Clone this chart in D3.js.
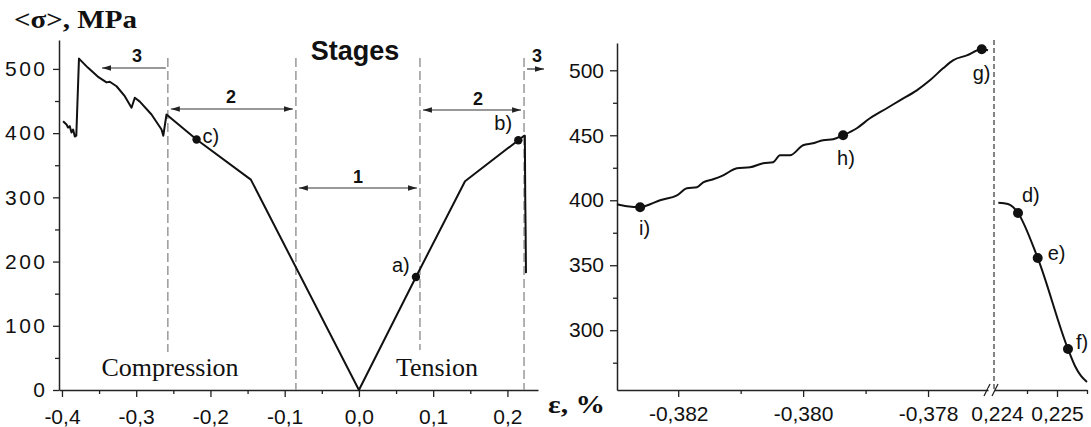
<!DOCTYPE html>
<html><head><meta charset="utf-8">
<script src="https://cdn.jsdelivr.net/npm/d3@7"></script>
<style>
body{margin:0;background:#fff}
svg{display:block}
text{fill:#111}
</style></head>
<body><svg id="c" width="1091" height="427"></svg>
<script>
// ---------- data ----------
// Left panel: full stress–strain loop (strain %, stress MPa)
const leftStrain = [-0.3985,-0.3939,-0.3918,-0.3895,-0.3872,-0.3850,-0.3827,-0.3807,-0.3771,-0.3652,-0.3518,-0.3400,-0.3356,-0.3265,-0.3154,-0.3063,-0.3019,-0.2951,-0.2794,-0.2659,-0.2635,-0.2592,-0.2187,-0.1456,0,0.0768,0.1429,0.2147,0.2224,0.2235,0.2240,0.2245,0.2250];
const leftStress = [418.6,413.4,408.7,410.8,401,405.6,394.7,396,516,502,488,479,480,473,457.5,439.5,455,449,429,405.6,396,429,390,327.6,0,176,325,389,396,396,300,250,182];
const leftPointLabels = ["a)","b)","c)"];
const leftPointStrain = [0.0768,0.2147,-0.2187];
const leftPointStress = [176,389,390];
const stageBounds = [-0.2574,-0.0849,0.0822,0.2224];
const leftXTicks = [-0.4,-0.3,-0.2,-0.1,0.0,0.1,0.2];
const leftXMinor = [-0.35,-0.25,-0.15,-0.05,0.05,0.15];
const leftYTicks = [0,100,200,300,400,500];
const leftYMinor = [50,150,250,350,450];

// Right panel: zoomed compression end (left segment) and tension end (right segment)
const compStrain = [-0.38298,-0.38282,-0.38261,-0.38245,-0.38229,-0.38202,-0.38186,-0.38170,-0.38160,-0.38144,-0.38128,-0.38106,-0.38085,-0.38064,-0.38048,-0.38037,-0.38021,-0.38000,-0.37984,-0.37968,-0.37952,-0.37936,-0.37914,-0.37893,-0.37866,-0.37845,-0.37818,-0.37797,-0.37776,-0.37760,-0.37738,-0.37714,-0.37704];
const compStress = [396.9,395.4,394.6,396.9,400,403.8,409.2,410,413.8,416.2,419.2,424.6,425.4,428.5,429.2,434.6,434.6,442.3,443.8,446.2,446.9,450,455.4,463.1,470.8,476.9,484.6,492.3,501.5,507.7,511.5,516.2,515.4];
const tensStrain = [0.224022,0.224183,0.224267,0.22435,0.224678,0.225183,0.2253,0.2254,0.2255];
const tensStress = [398.1,397.1,394.8,390.2,355.6,285.5,272.5,264.8,260.2];
const rightPointLabels = ["i)","h)","g)","d)","e)","f)"];
const rightPointStrain = [-0.38261,-0.37936,-0.37714,0.22435,0.224678,0.225183];
const rightPointStress = [394.6,450,516.2,390.2,355.6,285.5];
const rightXTicksA = [-0.382,-0.380,-0.378];
const rightXMinorA = [-0.381,-0.379];
const rightXTicksB = [0.224,0.225];
const rightXMinorB = [0.2245,0.2255];
const rightYTicks = [300,350,400,450,500];
const rightYMinor = [275,325,375,425,475];

// ---------- drawing ----------
const svg = d3.select("#c");
const fmt = d => d3.format("")(d).replace(".",",").replace("\u2212","-");
const SANS = "'Liberation Sans', Arial, sans-serif";
const SERIF = "'Liberation Serif', 'Times New Roman', serif";

const defs = svg.append("defs");
defs.append("marker").attr("id","ah").attr("viewBox","0 0 10 6").attr("refX",10).attr("refY",3)
  .attr("markerWidth",9).attr("markerHeight",6).attr("markerUnits","userSpaceOnUse").attr("orient","auto-start-reverse")
  .append("path").attr("d","M0,0 L10,3 L0,6 Z").attr("fill","#222");

// ===== LEFT PANEL =====
const xL = d3.scaleLinear().domain([-0.404,0.2412]).range([59,538]);
const yL = d3.scaleLinear().domain([0,545]).range([390,40]);
const gL = svg.append("g");

function styleAxis(g){
  g.selectAll("path.domain").attr("stroke","#222").attr("stroke-width",1.5);
  g.selectAll(".tick line").attr("stroke","#222").attr("stroke-width",1.3);
}
const axL = gL.append("g").attr("transform","translate(0,390)")
  .call(d3.axisBottom(xL).tickValues(leftXTicks).tickSize(7).tickSizeOuter(0).tickPadding(12).tickFormat(d=>d===0?"0,0":fmt(d)));
styleAxis(axL);
axL.selectAll("text").attr("font-family",SANS).attr("font-size",21).attr("fill","#111");
const axLm = gL.append("g").attr("transform","translate(0,390)")
  .call(d3.axisBottom(xL).tickValues(leftXMinor).tickSize(4).tickSizeOuter(0).tickFormat(""));
axLm.select("path.domain").remove(); styleAxis(axLm);
const ayL = gL.append("g").attr("transform","translate(59,0)")
  .call(d3.axisLeft(yL).tickValues(leftYTicks).tickSize(6).tickSizeOuter(0).tickPadding(3));
styleAxis(ayL);
ayL.selectAll("text").attr("font-family",SANS).attr("font-size",21).attr("fill","#111")
  .attr("letter-spacing","2.5px").attr("dx","-2.5px");
const ayLm = gL.append("g").attr("transform","translate(59,0)")
  .call(d3.axisLeft(yL).tickValues(leftYMinor).tickSize(4).tickSizeOuter(0).tickFormat(""));
ayLm.select("path.domain").remove(); styleAxis(ayLm);

const dashTop = [58,58,58,58], dashBot = [352,390,350,390];
stageBounds.forEach((s,i)=>{
  gL.append("line").attr("x1",xL(s)).attr("x2",xL(s)).attr("y1",dashTop[i]).attr("y2",dashBot[i])
    .attr("stroke","#999").attr("stroke-width",1.5).attr("stroke-dasharray","9,4");
});

const leftData = leftStrain.map((s,i)=>[s,leftStress[i]]);
gL.append("path").datum(leftData)
  .attr("d",d3.line().x(d=>xL(d[0])).y(d=>yL(d[1])))
  .attr("fill","none").attr("stroke","#111").attr("stroke-width",2).attr("stroke-linejoin","round");

leftPointStrain.forEach((s,i)=>{
  gL.append("circle").attr("cx",xL(s)).attr("cy",yL(leftPointStress[i])).attr("r",4.2).attr("fill","#111");
});
const lpOff = [[-24,-5],[-24,-10],[6,3]];
leftPointStrain.forEach((s,i)=>{
  gL.append("text").attr("x",xL(s)+lpOff[i][0]).attr("y",yL(leftPointStress[i])+lpOff[i][1])
    .attr("font-family",SANS).attr("font-size",20).text(leftPointLabels[i]);
});

function arrow(x1,x2,y,both){
  const l = gL.append("line").attr("x1",x1).attr("x2",x2).attr("y1",y).attr("y2",y)
    .attr("stroke","#333").attr("stroke-width",1.2).attr("marker-end","url(#ah)");
  if(both) l.attr("marker-start","url(#ah)");
}
function stageNum(t,x,y){
  gL.append("text").attr("x",x).attr("y",y).attr("text-anchor","middle")
    .attr("font-family",SANS).attr("font-weight","bold").attr("font-size",18).text(t);
}
arrow(xL(stageBounds[0])-2,102,68,false); stageNum("3",137,62);
arrow(xL(stageBounds[0])+3,xL(stageBounds[1])-3,109,true); stageNum("2",231,103);
arrow(xL(stageBounds[1])+3,xL(stageBounds[2])-3,188,true); stageNum("1",358,183);
arrow(xL(stageBounds[2])+3,xL(stageBounds[3])-3,110,true); stageNum("2",478,105);
arrow(xL(stageBounds[3])+3,544,69,false); stageNum("3",537,62);

gL.append("text").attr("x",355).attr("y",60).attr("text-anchor","middle")
  .attr("font-family",SANS).attr("font-weight","bold").attr("font-size",27).text("Stages");
gL.append("text").attr("x",170).attr("y",376).attr("text-anchor","middle")
  .attr("font-family",SERIF).attr("font-size",26).text("Compression");
gL.append("text").attr("x",437).attr("y",376).attr("text-anchor","middle")
  .attr("font-family",SERIF).attr("font-size",26).text("Tension");
svg.append("text").attr("x",14).attr("y",28).attr("font-family",SERIF).attr("font-weight","bold")
  .attr("font-size",25).attr("textLength",123).attr("lengthAdjust","spacingAndGlyphs").text("<σ>, MPa");
svg.append("text").attr("x",548).attr("y",413).attr("font-family",SERIF).attr("font-weight","bold")
  .attr("font-size",25).attr("textLength",57).attr("lengthAdjust","spacingAndGlyphs").text("ε, %");

// ===== RIGHT PANEL =====
const xA = d3.scaleLinear().domain([-0.38298,-0.377]).range([617,990.5]);
const xB = d3.scaleLinear().domain([0.22395,0.2255]).range([994,1087]);
const yR = d3.scaleLinear().domain([254,521]).range([390,43]);
const gR = svg.append("g");
const fmt3 = d => d3.format(".3f")(d).replace(".",",").replace("\u2212","-");

const axA = gR.append("g").attr("transform","translate(0,390)")
  .call(d3.axisBottom(xA).tickValues(rightXTicksA).tickSize(7).tickSizeOuter(0).tickPadding(9).tickFormat(fmt3));
styleAxis(axA);
const axAm = gR.append("g").attr("transform","translate(0,390)")
  .call(d3.axisBottom(xA).tickValues(rightXMinorA).tickSize(4).tickSizeOuter(0).tickFormat(""));
axAm.select("path.domain").remove(); styleAxis(axAm);
const axB = gR.append("g").attr("transform","translate(0,390)")
  .call(d3.axisBottom(xB).tickValues(rightXTicksB).tickSize(7).tickSizeOuter(0).tickPadding(9).tickFormat(fmt3));
styleAxis(axB);
axB.selectAll(".tick").filter(d=>d===0.224).select("line").remove();
const axBm = gR.append("g").attr("transform","translate(0,390)")
  .call(d3.axisBottom(xB).tickValues(rightXMinorB).tickSize(4).tickSizeOuter(0).tickFormat(""));
axBm.select("path.domain").remove(); styleAxis(axBm);
gR.selectAll("text").attr("font-family",SANS).attr("font-size",21).attr("fill","#111");

[987,995].forEach(x=>{
  gR.append("line").attr("x1",x-3).attr("x2",x+3).attr("y1",396).attr("y2",384)
    .attr("stroke","#222").attr("stroke-width",1.3);
});
gR.append("rect").attr("x",988.5).attr("y",388).attr("width",4).attr("height",4).attr("fill","#fff");

const ayR = gR.append("g").attr("transform","translate(617,0)")
  .call(d3.axisLeft(yR).tickValues(rightYTicks).tickSize(7).tickSizeOuter(0).tickPadding(6));
styleAxis(ayR);
ayR.selectAll("text").attr("font-family",SANS).attr("font-size",21).attr("fill","#111");
const ayRm = gR.append("g").attr("transform","translate(617,0)")
  .call(d3.axisLeft(yR).tickValues(rightYMinor).tickSize(4).tickSizeOuter(0).tickFormat(""));
ayRm.select("path.domain").remove(); styleAxis(ayRm);

gR.append("line").attr("x1",994).attr("x2",994).attr("y1",40).attr("y2",390)
  .attr("stroke","#333").attr("stroke-width",1.2).attr("stroke-dasharray","5,3");

const lineA = d3.line().curve(d3.curveMonotoneX).x(d=>xA(d[0])).y(d=>yR(d[1]));
const lineB = d3.line().curve(d3.curveMonotoneX).x(d=>xB(d[0])).y(d=>yR(d[1]));
gR.append("path").datum(compStrain.map((s,i)=>[s,compStress[i]])).attr("d",lineA)
  .attr("fill","none").attr("stroke","#111").attr("stroke-width",2);
gR.append("path").datum(tensStrain.map((s,i)=>[s,tensStress[i]])).attr("d",lineB)
  .attr("fill","none").attr("stroke","#111").attr("stroke-width",2);

const rOff = [[-1,28],[-6,30],[-9,31],[4,-11],[10,2],[8,0]];
rightPointStrain.forEach((s,i)=>{
  const x = s<0 ? xA(s) : xB(s);
  const y = yR(rightPointStress[i]);
  gR.append("circle").attr("cx",x).attr("cy",y).attr("r",5).attr("fill","#111");
  gR.append("text").attr("x",x+rOff[i][0]).attr("y",y+rOff[i][1]).attr("font-family",SANS)
    .attr("font-size",20).text(rightPointLabels[i]);
});
</script></body></html>
